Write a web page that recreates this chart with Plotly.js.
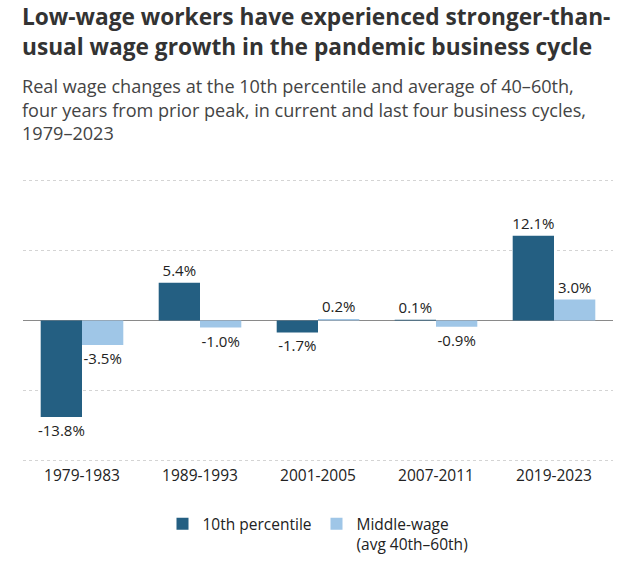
<!DOCTYPE html>
<html>
<head>
<meta charset="utf-8">
<script src="https://cdn.plot.ly/plotly-3.0.1.min.js"></script>
<style>html,body{margin:0;padding:0;background:#fff}#chart{width:640px;height:571px}</style>
</head>
<body>
<div id="chart"></div>
<script>
const categories = ["1979-1983", "1989-1993", "2001-2005", "2007-2011", "2019-2023"];
const tenthPercentile = [-13.8, 5.4, -1.7, 0.1, 12.1];
const middleWage = [-3.5, -1.0, 0.2, -0.9, 3.0];
const seriesNames = ["10th percentile", "Middle-wage<br>(avg 40th–60th)"];

const fontFam = "'Open Sans', Lato, sans-serif";
const fmt = v => v.toFixed(1) + "%";

const traces = [
  {type: "bar", name: seriesNames[0], x: categories, y: tenthPercentile,
   text: tenthPercentile.map(fmt), textposition: "outside", cliponaxis: false, constraintext: "none",
   textfont: {size: 15, color: "#222", family: fontFam},
   marker: {color: "#245f82"}},
  {type: "bar", name: seriesNames[1], x: categories, y: middleWage,
   text: middleWage.map(fmt), textposition: "outside", cliponaxis: false, constraintext: "none",
   textfont: {size: 15, color: "#222", family: fontFam},
   marker: {color: "#9fc6e7"}}
];

const layout = {
  width: 640, height: 571,
  margin: {l: 23, r: 27, t: 177, b: 107, autoexpand: false},
  paper_bgcolor: "#fff", plot_bgcolor: "#fff",
  barmode: "group", bargap: 0.3, bargroupgap: 0,
  font: {family: fontFam, color: "#333"},
  showlegend: true,
  legend: {orientation: "h", x: 0.5, xanchor: "center", y: -0.15, yanchor: "top",
           font: {size: 15.5, color: "#222", family: fontFam}, valign: "top",
           traceorder: "normal", itemclick: false},
  xaxis: {type: "category", showgrid: false, zeroline: false, showline: false, automargin: false,
          ticks: "", tickfont: {size: 15.5, color: "#222", family: fontFam}},
  yaxis: {range: [-20.5, 20.5], tickvals: [-20, -10, 10, 20], showticklabels: false, ticks: "", automargin: false,
          showgrid: true, gridcolor: "#d4d4d4", griddash: "dot", gridwidth: 1.5,
          zeroline: true, zerolinecolor: "#8a8a8a", zerolinewidth: 1.5, showline: false},
  annotations: [
    {xref: "paper", yref: "paper", x: -0.005, xanchor: "left", y: 1, yanchor: "bottom",
     yshift: 113, align: "left", showarrow: false,
     text: "<b>Low-wage workers have experienced stronger-than-<br>usual wage growth in the pandemic business cycle</b>",
     font: {size: 22.7, color: "#333", family: fontFam}},
    {xref: "paper", yref: "paper", x: -0.005, xanchor: "left", y: 1, yanchor: "bottom",
     yshift: 30, align: "left", showarrow: false,
     text: "Real wage changes at the 10th percentile and average of 40–60th,<br>four years from prior peak, in current and last four business cycles,<br>1979–2023",
     font: {size: 18.1, color: "#444", family: fontFam}}
  ]
};

Plotly.newPlot("chart", traces, layout, {displayModeBar: false, staticPlot: true});
</script>
</body>
</html>
